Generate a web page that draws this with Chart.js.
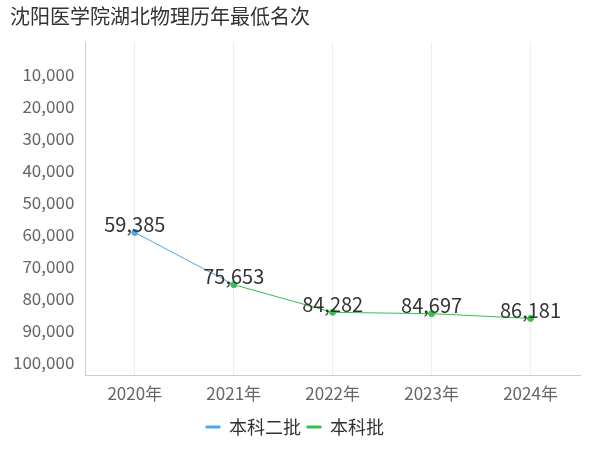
<!DOCTYPE html>
<html>
<head>
<meta charset="utf-8">
<script src="https://cdn.jsdelivr.net/npm/chart.js@4"></script>
<style>
body { margin: 0; background: #fff; }
</style>
</head>
<body>
<canvas id="myChart" width="600" height="450"></canvas>
<script>
// data
var years = ["2020年", "2021年", "2022年", "2023年", "2024年"];
var erpi = [59385, 75653, null, null, null];
var benke = [null, 75653, 84282, 84697, 86181];
var labelValues = [59385, 75653, 84282, 84697, 86181];

var fontFamily = "'Noto Sans CJK SC', 'Noto Sans', sans-serif";

// draw value labels above points
var valueLabels = {
    id: "valueLabels",
    afterDatasetsDraw: function(chart) {
        var ctx = chart.ctx;
        var x = chart.scales.x;
        var y = chart.scales.y;
        ctx.save();
        ctx.font = "20px " + fontFamily;
        ctx.fillStyle = "#333";
        ctx.textAlign = "center";
        ctx.textBaseline = "bottom";
        labelValues.forEach(function(v, i) {
            ctx.fillText(v.toLocaleString("en-US"), x.getPixelForValue(i), y.getPixelForValue(v) + 2);
        });
        ctx.restore();
    }
};

var myChart = new Chart(document.getElementById("myChart").getContext("2d"), {
    type: "line",
    data: {
        labels: years,
        datasets: [{
            label: "本科二批",
            data: erpi,
            borderColor: "#4da6f0",
            backgroundColor: "#4da6f0",
            borderWidth: 1,
            pointRadius: [3, 0, 0, 0, 0]
        }, {
            label: "本科批",
            data: benke,
            borderColor: "#33c24a",
            backgroundColor: "#33c24a",
            borderWidth: 1,
            pointRadius: 3
        }]
    },
    options: {
        responsive: false,
        animation: false,
        layout: { padding: { left: 10, right: 20, top: 0, bottom: 4 } },
        plugins: {
            title: {
                display: true,
                text: "沈阳医学院湖北物理历年最低名次",
                align: "start",
                color: "#333",
                font: { size: 20, family: fontFamily, weight: "normal" },
                padding: { left: 110, top: 4, bottom: 14 }
            },
            legend: {
                position: "bottom",
                labels: {
                    color: "#333",
                    font: { size: 18, family: fontFamily },
                    boxWidth: 14,
                    boxHeight: 2,
                    padding: 6
                }
            },
            tooltip: { enabled: false }
        },
        scales: {
            x: {
                offset: true,
                grid: { color: "#eee", drawTicks: false },
                border: { color: "#ccc" },
                ticks: { color: "#666", font: { size: 17, family: fontFamily }, padding: 8, maxRotation: 0 }
            },
            y: {
                reverse: true,
                min: 0,
                max: 104000,
                afterBuildTicks: function(axis) {
                    var t = [];
                    for (var v = 10000; v <= 100000; v += 10000) t.push({ value: v });
                    axis.ticks = t;
                },
                grid: { display: false },
                border: { color: "#ccc" },
                ticks: {
                    color: "#666",
                    font: { size: 17, family: fontFamily },
                    callback: function(v) { return v.toLocaleString("en-US"); }
                }
            }
        }
    },
    plugins: [valueLabels]
});
</script>
</body>
</html>
